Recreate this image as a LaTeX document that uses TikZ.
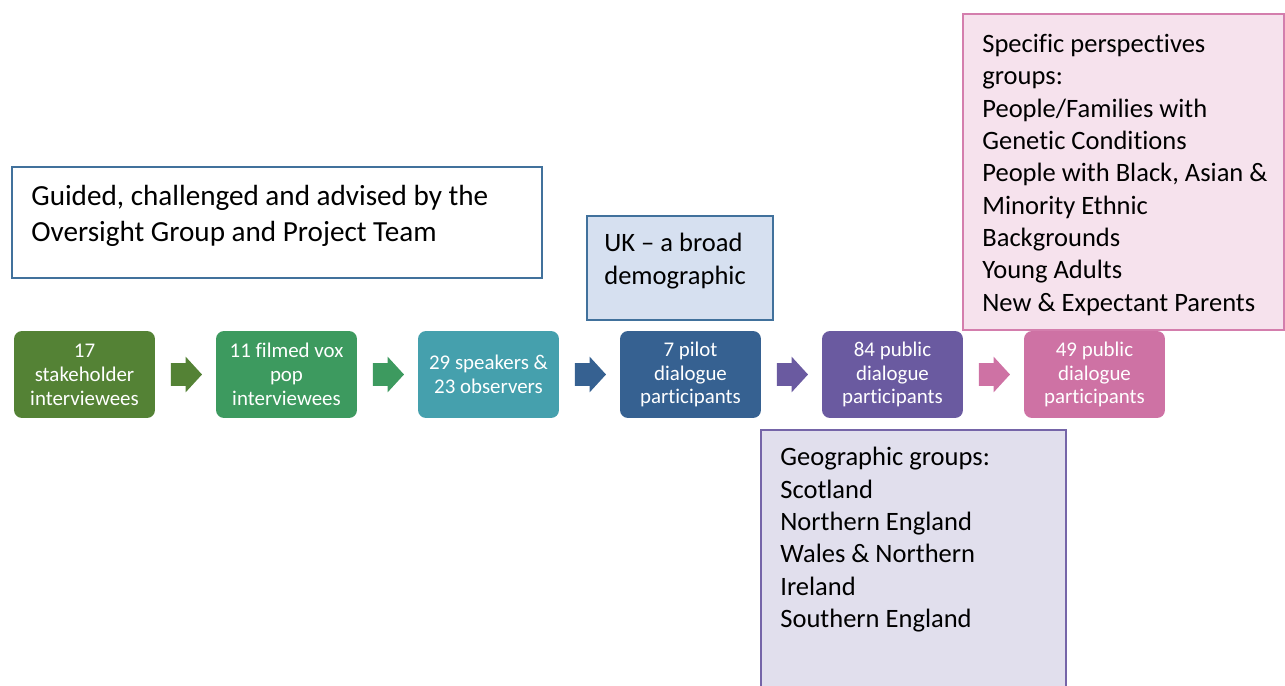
\documentclass[tikz,border=0pt]{standalone}
\usepackage{fontspec}
\setmainfont[Ligatures=CommonOff]{Carlito}
\usetikzlibrary{positioning,calc,shapes.arrows}

\definecolor{stepA}{HTML}{548235}
\definecolor{stepB}{HTML}{3D9A5F}
\definecolor{stepC}{HTML}{45A0AD}
\definecolor{stepD}{HTML}{366191}
\definecolor{stepE}{HTML}{6A5AA0}
\definecolor{stepF}{HTML}{CE72A4}
\definecolor{guideline}{HTML}{41719C}
\definecolor{ukfill}{HTML}{D6E0F0}
\definecolor{geofill}{HTML}{E1DFED}
\definecolor{geoline}{HTML}{7565A8}
\definecolor{specfill}{HTML}{F6E2ED}
\definecolor{specline}{HTML}{D47EAD}

\begin{document}
\begin{tikzpicture}[x=0.02cm,y=-0.02cm,
  stepbox/.style={rounded corners=0.16cm,minimum width=2.82cm,minimum height=1.74cm,
    inner sep=0pt,outer sep=0pt,text=white,align=center,
    font=\fontsize{11.9}{13.6}\selectfont},
  flowarrow/.style={single arrow,single arrow tip angle=95,single arrow head extend=0.13cm,
    minimum height=0.62cm,inner xsep=0pt,inner ysep=0.22cm,outer sep=0pt,anchor=tail},
  notebox/.style={line width=0.85pt},
  notetext/.style={anchor=north west,align=left,inner sep=0pt,
    font=\fontsize{15.1}{18.4}\selectfont}]

\clip (0,0) rectangle (1285,686);

% the six steps
\foreach \i/\col/\txt in {1/stepA/{17\\stakeholder\\interviewees},
    2/stepB/{11 filmed vox\\pop\\interviewees},
    3/stepC/{29 speakers \&\\23 observers},
    4/stepD/{7 pilot\\dialogue\\participants},
    5/stepE/{84 public\\dialogue\\participants},
    6/stepF/{49 public\\dialogue\\participants}}
	\node[stepbox,fill=\col] (s\i) at ({84.5+202*(\i-1)},374.5) {\txt};

\foreach \i/\col in {1/stepA,2/stepB,3/stepD,4/stepE,5/stepF}
	\node[flowarrow,fill=\col] (a\i) at ($(s\i.east)+(16,0)$) {};

% notes
\draw[notebox,draw=guideline,fill=white] (12,167) rectangle (542,278);
\node[notetext,font=\fontsize{16.6}{20.4}\selectfont] (guide) at (31,185)
	{Guided, challenged and advised by the\\Oversight Group and Project Team};

\draw[notebox,draw=guideline,fill=ukfill] (587,216) rectangle (773,320);
\node[notetext] (uk) at (604,233) {UK -- a broad\\demographic};

\draw[notebox,draw=geoline,fill=geofill] (761,430) rectangle (1066,700);
\node[notetext] (geo) at (780,447)
	{Geographic groups:\\Scotland\\Northern England\\Wales \& Northern\\Ireland\\Southern England};

\draw[notebox,draw=specline,fill=specfill] (963,14) rectangle (1284,330);
\node[notetext] (spec) at (982,34)
	{Specific perspectives\\groups:\\People/Families with\\Genetic Conditions\\People with Black, Asian \&\\Minority Ethnic\\Backgrounds\\Young Adults\\New \& Expectant Parents};

\end{tikzpicture}
\end{document}
